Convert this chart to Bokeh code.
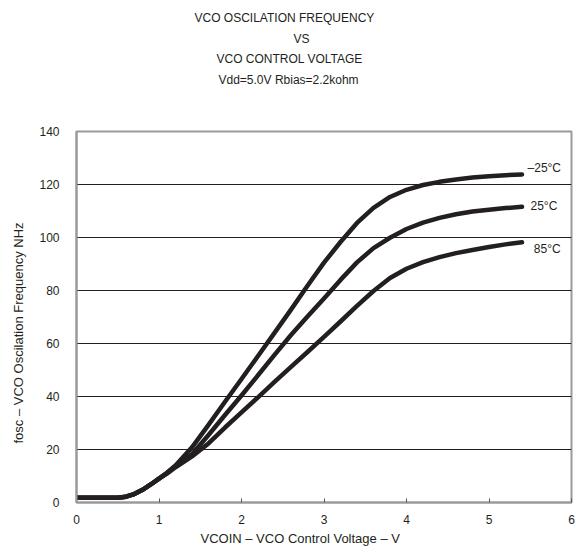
from bokeh.plotting import figure
from bokeh.models import Range1d, Label, FixedTicker, Title
from bokeh.embed import file_html
from bokeh.resources import INLINE

# ---- data ----
vcoin = [0, 0.5, 0.6, 0.7, 0.8, 0.9, 1.0, 1.1, 1.2, 1.4, 1.6, 1.8, 2.0, 2.2, 2.4,
         2.6, 2.8, 3.0, 3.2, 3.4, 3.6, 3.8, 4.0, 4.2, 4.4, 4.6, 4.8, 5.0, 5.2, 5.4]

fosc_m25 = [1.8, 1.8, 2.2, 3.2, 4.8, 6.8, 9.0, 11.3, 14.0, 20.8, 29.3, 38.0, 46.6, 55.3, 64.0,
            72.8, 81.8, 90.5, 98.3, 105.5, 111.2, 115.3, 118.0, 119.8, 121.0, 121.9, 122.6, 123.1, 123.5, 123.8]
fosc_25 = [1.8, 1.8, 2.2, 3.2, 4.8, 6.8, 9.0, 11.2, 13.7, 18.2, 25.5, 33.0, 40.4, 48.0, 55.7,
           63.2, 70.2, 77.0, 84.0, 90.6, 96.0, 99.9, 103.2, 105.6, 107.4, 108.8, 109.8, 110.5, 111.1, 111.6]
fosc_85 = [1.8, 1.8, 2.2, 3.2, 4.8, 6.8, 9.0, 11.0, 13.3, 17.4, 22.3, 28.3, 34.0, 39.7, 45.5,
           51.2, 56.8, 62.5, 68.3, 74.2, 79.8, 84.7, 88.2, 90.7, 92.6, 94.1, 95.3, 96.4, 97.4, 98.2]

series_names = ["\u201325\u00b0C", "25\u00b0C", "85\u00b0C"]
x_ticks = [0, 1, 2, 3, 4, 5, 6]
y_ticks = [0, 20, 40, 60, 80, 100, 120, 140]
grid_ticks = [20, 40, 60, 80, 100, 120]

title_lines = ["VCO OSCILATION FREQUENCY", "VS", "VCO CONTROL VOLTAGE", "Vdd=5.0V Rbias=2.2kohm"]
x_label = "VCOIN \u2013 VCO Control Voltage \u2013 V"
y_label = "fosc \u2013 VCO Oscilation Frequency NHz"

FONT = "Liberation Sans"
INK = "#231f20"
GREY = "#9a9a9a"

p = figure(width=576, height=556, x_range=Range1d(0, 6), y_range=Range1d(0, 140),
           output_backend="svg", toolbar_location=None, title=None,
           min_border_left=76, min_border_right=5, min_border_top=131, min_border_bottom=54)
p.background_fill_color = "white"
p.border_fill_color = "white"
p.outline_line_color = GREY
p.outline_line_width = 2

# axes
p.xaxis.ticker = FixedTicker(ticks=x_ticks)
p.yaxis.ticker = FixedTicker(ticks=y_ticks)
for ax in (p.xaxis[0], p.yaxis[0]):
    ax.axis_line_color = GREY
    ax.axis_line_width = 2
    ax.minor_tick_line_color = None
    ax.major_label_text_font = FONT
    ax.major_label_text_font_size = "12px"
    ax.major_label_text_color = INK
p.xaxis.major_tick_in = 4
p.xaxis.major_tick_out = 0
p.xaxis.major_tick_line_color = "#555555"
p.xaxis.major_label_standoff = 12
p.yaxis.major_tick_in = 0
p.yaxis.major_tick_out = 0
p.yaxis.major_tick_line_color = None
p.yaxis.major_label_standoff = 17

p.xgrid.visible = False
p.ygrid.ticker = FixedTicker(ticks=grid_ticks)
p.ygrid.grid_line_color = INK
p.ygrid.grid_line_width = 1

# curves
for ys in (fosc_m25, fosc_25, fosc_85):
    p.line(vcoin, ys, line_color=INK, line_width=4.5, line_join="round", line_cap="round")

# series labels (inside the frame)
label_pos = [(5.467, 126.4), (5.503, 111.7), (5.543, 95.6)]
for name, (lx, ly) in zip(series_names, label_pos):
    p.add_layout(Label(x=lx, y=ly, text=name, text_font=FONT, text_font_size="12px",
                       text_color=INK, text_align="left", text_baseline="middle"))

# spacer between the frame and the title block
p.add_layout(Title(text=" ", standoff=27, text_font=FONT, text_font_size="12px"), "above")
# title lines as stacked titles (closest to the frame first)
title_offsets = [118, 217, 140, 142]
title_standoffs = [5, 4, 5, 4]
for i in [3, 2, 1, 0]:
    p.add_layout(Title(text=title_lines[i], align="left", offset=title_offsets[i],
                       standoff=title_standoffs[i], text_font=FONT, text_font_size="12px",
                       text_font_style="normal", text_color=INK), "above")

# axis labels as titles
p.add_layout(Title(text=x_label, align="left", offset=124, standoff=4, text_font=FONT,
                   text_font_size="13px", text_font_style="normal", text_color=INK), "below")
p.add_layout(Title(text=y_label, align="left", offset=59, standoff=17, vertical_align="top",
                   text_font=FONT, text_font_size="13px", text_font_style="normal",
                   text_color=INK), "left")

open("out.html", "w").write(file_html(p, INLINE))
